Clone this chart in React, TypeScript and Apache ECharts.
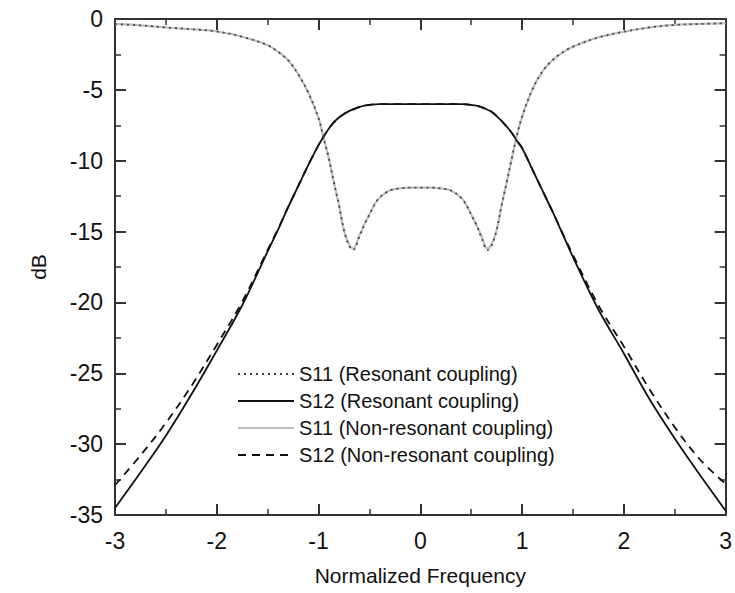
import React, { useEffect, useRef } from "react";
import * as echarts from "echarts";

const freqs = [
  -3, -2.75, -2.5, -2.25, -2, -1.75, -1.5, -1.4, -1.3, -1.2, -1.1, -1.0, -0.95, -0.9, -0.85, -0.8, -0.75, -0.7,
  -0.66, -0.6, -0.55, -0.5, -0.45, -0.4, -0.3, -0.2, -0.1, 0, 0.1, 0.2, 0.3, 0.4, 0.45, 0.5, 0.55, 0.6, 0.66,
  0.7, 0.75, 0.8, 0.85, 0.9, 0.95, 1.0, 1.1, 1.2, 1.3, 1.4, 1.5, 1.75, 2, 2.25, 2.5, 2.75, 3,
];

const s11Resonant = [
  -0.35, -0.45, -0.6, -0.72, -0.88, -1.25, -1.85, -2.3, -2.9, -3.9, -5.2, -7.0, -8.4, -9.8, -11.5, -13.1, -14.9,
  -16.0, -16.3, -15.4, -14.5, -13.8, -13.1, -12.6, -12.1, -11.95, -11.9, -11.9, -11.9, -11.95, -12.1, -12.6,
  -13.1, -13.8, -14.5, -15.4, -16.3, -16.0, -14.9, -13.1, -11.5, -9.8, -8.2, -6.9, -5.0, -3.7, -2.9, -2.35,
  -1.95, -1.3, -0.9, -0.6, -0.42, -0.35, -0.3,
];

const s12Resonant = [
  -34.5, -32.0, -29.4, -26.5, -23.4, -20.2, -16.4, -14.9, -13.3, -11.8, -10.3, -8.9, -8.3, -7.75, -7.3, -6.95,
  -6.7, -6.5, -6.38, -6.22, -6.12, -6.06, -6.02, -6.0, -6.0, -6.0, -6.0, -6.0, -6.0, -6.0, -6.0, -6.0, -6.02,
  -6.06, -6.12, -6.22, -6.4, -6.55, -6.85, -7.2, -7.6, -8.05, -8.6, -9.1, -10.6, -12.1, -13.6, -15.2, -16.8,
  -20.5, -23.6, -26.8, -29.6, -32.2, -34.7,
];

const s11NonResonant = [
  -0.35, -0.45, -0.6, -0.72, -0.88, -1.25, -1.85, -2.3, -2.9, -3.9, -5.2, -7.0, -8.4, -9.8, -11.5, -13.1, -14.9,
  -15.9, -16.2, -15.3, -14.5, -13.8, -13.1, -12.6, -12.1, -11.95, -11.9, -11.9, -11.9, -11.95, -12.1, -12.6,
  -13.1, -13.8, -14.5, -15.3, -16.2, -15.9, -14.9, -13.1, -11.5, -9.8, -8.2, -6.9, -5.0, -3.7, -2.9, -2.35,
  -1.95, -1.3, -0.9, -0.6, -0.42, -0.35, -0.3,
];

const s12NonResonant = [
  -32.9, -30.8, -28.5, -25.9, -23.0, -19.95, -16.3, -14.85, -13.3, -11.8, -10.3, -8.9, -8.3, -7.75, -7.3, -6.95,
  -6.7, -6.5, -6.38, -6.22, -6.12, -6.06, -6.02, -6.0, -6.0, -6.0, -6.0, -6.0, -6.0, -6.0, -6.0, -6.0, -6.02,
  -6.06, -6.12, -6.22, -6.4, -6.55, -6.85, -7.2, -7.6, -8.05, -8.6, -9.1, -10.6, -12.1, -13.6, -15.15, -16.65,
  -20.2, -23.1, -26.1, -28.8, -31.1, -32.8,
];

const seriesNames = [
  "S11 (Resonant coupling)",
  "S12 (Resonant coupling)",
  "S11 (Non-resonant coupling)",
  "S12 (Non-resonant coupling)",
];

const FONT = "Liberation Sans, Arial, sans-serif";
const AXIS_COLOR = "#333";

function pairs(ys: number[]) {
  return freqs.map((x, i) => [x, ys[i]]);
}

export default function App() {
  const ref = useRef<HTMLDivElement>(null);
  useEffect(() => {
    if (!ref.current) return;
    const chart = echarts.init(ref.current, undefined, { renderer: "svg" });
    const axisCommon = {
      axisLine: { show: true, onZero: false, lineStyle: { color: AXIS_COLOR, width: 2 } },
      axisTick: { show: true, inside: true, length: 11, lineStyle: { color: AXIS_COLOR, width: 2 } },
      minorTick: { show: true, splitNumber: 2, length: 6, lineStyle: { color: AXIS_COLOR, width: 1.5 } },
      splitLine: { show: false },
      minorSplitLine: { show: false },
    };
    chart.setOption({
      animation: false,
      backgroundColor: "#fff",
      grid: { left: 115, right: 4, top: 19, bottom: 78, containLabel: false },
      xAxis: [
        {
          type: "value",
          min: -3,
          max: 3,
          interval: 1,
          position: "bottom",
          name: "Normalized Frequency",
          nameLocation: "middle",
          nameGap: 50,
          nameTextStyle: { fontFamily: FONT, fontSize: 21, color: "#111" },
          axisLabel: { fontFamily: FONT, fontSize: 23, color: "#111", margin: 14 },
          ...axisCommon,
        },
        {
          type: "value",
          min: -3,
          max: 3,
          interval: 1,
          position: "top",
          axisLabel: { show: false },
          ...axisCommon,
        },
      ],
      yAxis: [
        {
          type: "value",
          min: -35,
          max: 0,
          interval: 5,
          position: "left",
          name: "dB",
          nameLocation: "middle",
          nameGap: 66,
          nameTextStyle: { fontFamily: FONT, fontSize: 21, color: "#111" },
          axisLabel: { fontFamily: FONT, fontSize: 23, color: "#111", margin: 12 },
          ...axisCommon,
        },
        {
          type: "value",
          min: -35,
          max: 0,
          interval: 5,
          position: "right",
          axisLabel: { show: false },
          ...axisCommon,
        },
      ],
      legend: {
        orient: "vertical",
        left: 232,
        top: 359,
        itemWidth: 56,
        itemHeight: 14,
        itemGap: 7,
        data: seriesNames,
        itemStyle: { color: "rgba(0,0,0,0)", borderColor: "rgba(0,0,0,0)", borderWidth: 0 },
        textStyle: { fontFamily: FONT, fontSize: 20, color: "#111" },
        selectedMode: false,
      },
      series: [
        {
          name: seriesNames[0],
          type: "line",
          data: pairs(s11Resonant),
          showSymbol: false,
          symbol: "none",
          smooth: 0.35,
          z: 4,
          itemStyle: { color: "#444" },
          lineStyle: { color: "#444", width: 1.8, type: [2, 4] },
        },
        {
          name: seriesNames[1],
          type: "line",
          data: pairs(s12Resonant),
          showSymbol: false,
          symbol: "none",
          smooth: 0.35,
          z: 3,
          itemStyle: { color: "#111" },
          lineStyle: { color: "#111", width: 1.8, type: "solid" },
        },
        {
          name: seriesNames[2],
          type: "line",
          data: pairs(s11NonResonant),
          showSymbol: false,
          symbol: "none",
          smooth: 0.35,
          z: 2,
          itemStyle: { color: "#bdbdbd" },
          lineStyle: { color: "#bdbdbd", width: 2.2, type: "solid" },
        },
        {
          name: seriesNames[3],
          type: "line",
          data: pairs(s12NonResonant),
          showSymbol: false,
          symbol: "none",
          smooth: 0.35,
          z: 3,
          itemStyle: { color: "#111" },
          lineStyle: { color: "#111", width: 1.8, type: [8, 6] },
        },
      ],
    });
    return () => chart.dispose();
  }, []);
  return <div ref={ref} style={{ position: "fixed", left: 0, top: 0, width: 735, height: 593 }} />;
}
